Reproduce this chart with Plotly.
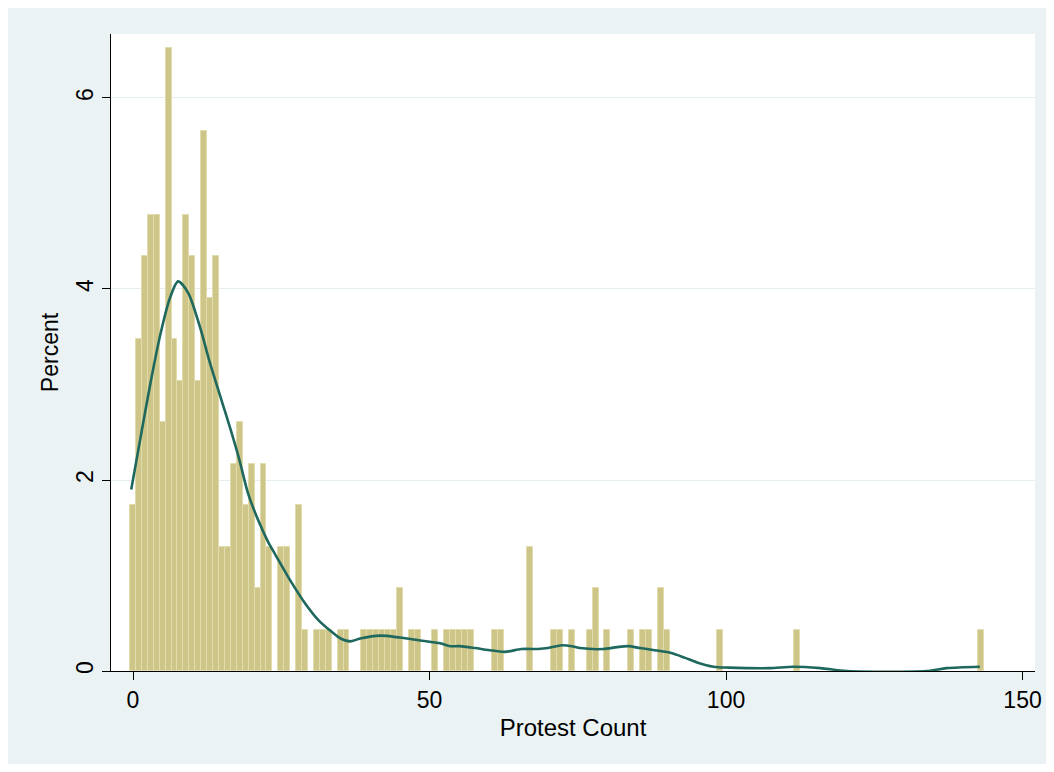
import plotly.graph_objects as go

# Histogram bars (protest count value, percent of observations)
bar_x = [0, 1, 2, 3, 4, 5, 6, 7, 8, 9, 10, 11, 12, 13, 14, 15, 16, 17, 18, 19, 20, 21, 22, 23,
         25, 26, 28, 29, 31, 32, 33, 35, 36, 39, 40, 41, 42, 43, 44, 45, 47, 48, 51,
         53, 54, 55, 56, 57, 61, 62, 67, 71, 72, 74, 77, 78, 80, 84, 86, 87, 89, 90,
         99, 112, 143]
bar_pct = [1.74, 3.48, 4.35, 4.78, 4.78, 2.61, 6.52, 3.48, 3.04, 4.78, 4.35, 3.04, 5.65, 3.91, 4.35,
           1.30, 1.30, 2.17, 2.61, 1.74, 2.17, 0.87, 2.17, 1.30,
           1.30, 1.30, 1.74, 0.43, 0.43, 0.43, 0.43, 0.43, 0.43, 0.43, 0.43, 0.43, 0.43, 0.43, 0.43,
           0.87, 0.43, 0.43, 0.43,
           0.43, 0.43, 0.43, 0.43, 0.43, 0.43, 0.43, 1.30, 0.43, 0.43, 0.43, 0.43, 0.87, 0.43,
           0.43, 0.43, 0.43, 0.87, 0.43,
           0.43, 0.43, 0.43]

# Kernel density overlay (percent scale)
kd_x = [-0.3, 1.2, 2.9, 4.6, 6.2, 7.6, 9.3, 11.3, 13.0, 14.9, 16.4, 17.9, 19.4, 21.1, 22.8, 23.9,
        26.8, 29.0, 31.3, 33.5, 35.0, 36.6, 38.3, 41.7, 45.0, 48.4, 51.8, 53.5, 55.1, 57.7, 59.9,
        62.7, 65.5, 68.3, 70.0, 72.3, 74.0, 75.4, 79.3, 81.6, 83.5, 85.5, 87.7, 90.6, 93.0,
        95.1, 97.9, 100.5, 103.5, 107.4, 111.4, 115.9, 120.4, 133.8, 137.2, 142.8]
kd_y = [1.90, 2.42, 3.00, 3.52, 3.90, 4.08, 3.96, 3.60, 3.22, 2.84, 2.54, 2.22, 1.86, 1.58, 1.35, 1.23,
        0.92, 0.71, 0.53, 0.41, 0.34, 0.31, 0.34, 0.37, 0.35, 0.32, 0.29, 0.26, 0.26, 0.24, 0.22,
        0.20, 0.23, 0.23, 0.24, 0.27, 0.26, 0.24, 0.23, 0.25, 0.26, 0.24, 0.22, 0.19, 0.14,
        0.09, 0.045, 0.035, 0.03, 0.03, 0.045, 0.03, 0.0, 0.0, 0.03, 0.045]

x_ticks = [0, 50, 100, 150]
y_ticks = [0, 2, 4, 6]

FONT = "Liberation Sans, Arial, Helvetica, sans-serif"
BG = "#EAF2F3"

fig = go.Figure()
fig.add_trace(go.Bar(
    x=bar_x, y=bar_pct, width=1,
    marker=dict(color="rgb(206,198,136)", line=dict(color="rgb(226,220,172)", width=1)),
    showlegend=False,
))
fig.add_trace(go.Scatter(
    x=kd_x, y=kd_y, mode="lines",
    line=dict(color="rgb(30,104,94)", width=2.6, shape="spline", smoothing=0.8),
    showlegend=False,
))

L, R, T, B = 111, 19, 34, 101
W, H = 1054, 772
pw, ph = W - L - R, H - T - B

def px(xp):
    return (xp - L) / pw

def py(yp):
    return (H - B - yp) / ph

fig.update_layout(
    width=W, height=H,
    margin=dict(l=L, r=R, t=T, b=B, pad=0),
    paper_bgcolor="white",
    plot_bgcolor="white",
    bargap=0,
    font=dict(family=FONT, size=22, color="black"),
    shapes=[
        dict(type="rect", xref="paper", yref="paper", x0=px(8), x1=px(1046), y0=py(764), y1=py(8),
             fillcolor=BG, line=dict(width=0), layer="below"),
        dict(type="rect", xref="paper", yref="paper", x0=0, x1=1, y0=0, y1=1,
             fillcolor="white", line=dict(width=0), layer="below"),
    ],
    xaxis=dict(
        range=[-3.71, 152.1], tickvals=x_ticks, ticktext=[str(v) for v in x_ticks],
        ticks="outside", ticklen=8, tickcolor="black", tickwidth=1.2,
        showline=True, linecolor="black", linewidth=1.2, showgrid=False, zeroline=False,
        tickfont=dict(size=23), title=dict(text="Protest Count", font=dict(size=24), standoff=7),
    ),
    yaxis=dict(
        range=[0, 6.67], tickvals=y_ticks, ticktext=[str(v) for v in y_ticks],
        ticks="outside", ticklen=8, tickcolor="black", tickwidth=1.2, tickangle=-90,
        showline=True, linecolor="black", linewidth=1.2,
        showgrid=True, gridcolor="#E4EEF0", gridwidth=1.2, zeroline=False,
        tickfont=dict(size=23), title=dict(text="Percent", font=dict(size=23), standoff=6),
    ),
)

fig.write_html("out.html")
